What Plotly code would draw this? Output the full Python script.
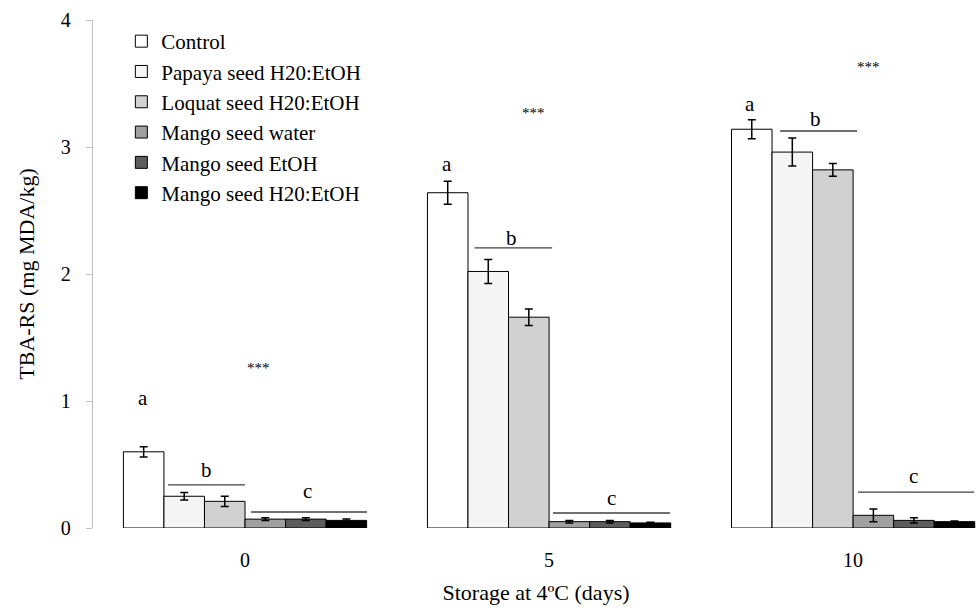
import plotly.graph_objects as go

days = ["0", "5", "10"]
series_names = ["Control", "Papaya seed H20:EtOH", "Loquat seed H20:EtOH",
                "Mango seed water", "Mango seed EtOH", "Mango seed H20:EtOH"]
control = [0.60, 2.64, 3.14]
papaya = [0.25, 2.02, 2.96]
loquat = [0.21, 1.66, 2.82]
mango_water = [0.07, 0.05, 0.10]
mango_etoh = [0.07, 0.05, 0.06]
mango_h2o_etoh = [0.06, 0.04, 0.05]
err_control = [0.04, 0.09, 0.075]
err_papaya = [0.03, 0.095, 0.11]
err_loquat = [0.04, 0.065, 0.05]
err_mango_water = [0.01, 0.01, 0.05]
err_mango_etoh = [0.01, 0.01, 0.02]
err_mango_h2o_etoh = [0.01, 0.005, 0.005]
fills = ["#ffffff", "#f4f5f4", "#d0d1d0", "#a0a0a0", "#5d5d5d", "#000000"]

# significance annotations (x in category units, y in data units)
star_x = [0.045, 0.95, 2.05]
star_y = [1.26, 3.27, 3.63]
letters = ["a", "b", "c", "a", "b", "c", "a", "b", "c"]
letter_x = [-0.335, -0.128, 0.207, 0.664, 0.875, 1.204, 1.66, 1.875, 2.2]
letter_y = [1.02, 0.46, 0.29, 2.87, 2.28, 0.24, 3.34, 3.22, 0.41]
line_x0 = [-0.253, 0.02, 0.755, 1.013, 1.76, 2.016]
line_x1 = [0.0, 0.401, 1.01, 1.398, 2.013, 2.398]
line_y = [0.339, 0.126, 2.205, 0.118, 3.126, 0.283]

values = [control, papaya, loquat, mango_water, mango_etoh, mango_h2o_etoh]
errors = [err_control, err_papaya, err_loquat, err_mango_water, err_mango_etoh, err_mango_h2o_etoh]

FONT = "Liberation Serif"
fig = go.Figure()
xpos = list(range(len(days)))
for name, v, e, c in zip(series_names, values, errors, fills):
    fig.add_trace(go.Bar(
        x=xpos, y=v, name=name,
        marker=dict(color=c, line=dict(color="#000000", width=1)),
        error_y=dict(type="data", array=e, visible=True, color="#000000", thickness=1.5, width=4),
    ))

for sx, sy in zip(star_x, star_y):
    fig.add_annotation(x=sx, y=sy, text="***", showarrow=False, font=dict(size=15, color="#000"))
for t, lx, ly in zip(letters, letter_x, letter_y):
    fig.add_annotation(x=lx, y=ly, text=t, showarrow=False, font=dict(size=21, color="#000"))
for x0, x1, y in zip(line_x0, line_x1, line_y):
    fig.add_shape(type="line", x0=x0, x1=x1, y0=y, y1=y, xref="x", yref="y",
                  line=dict(color="#404040", width=1.3))

fig.update_layout(
    width=979, height=610,
    margin=dict(l=93, r=0, t=20, b=82),
    paper_bgcolor="white", plot_bgcolor="white",
    font=dict(family=FONT, size=20, color="#000"),
    barmode="group", bargap=0.2, bargroupgap=0,
    showlegend=True,
    legend=dict(x=0.032, y=0.998, xanchor="left", yanchor="top",
                bgcolor="rgba(0,0,0,0)", font=dict(family=FONT, size=21), tracegroupgap=0,
                itemwidth=30),
    xaxis=dict(tickvals=xpos, ticktext=days, range=[-0.5, 2.414],
               showline=False, showgrid=False, ticks="", zeroline=False,
               ticklabelstandoff=18, tickfont=dict(family=FONT, size=20),
               title=dict(text="Storage at 4ºC (days)", standoff=14,
                          font=dict(family=FONT, size=22))),
    yaxis=dict(range=[0, 4], tickvals=[0, 1, 2, 3, 4], showgrid=False, zeroline=False,
               showline=True, linecolor="#bfbfbf", linewidth=1.3, ticks="outside",
               ticklen=6, tickcolor="#bfbfbf", ticklabelstandoff=11,
               tickfont=dict(family=FONT, size=20),
               title=dict(text="TBA-RS (mg MDA/kg)", standoff=20,
                          font=dict(family=FONT, size=22))),
)
fig.write_html("out.html")
